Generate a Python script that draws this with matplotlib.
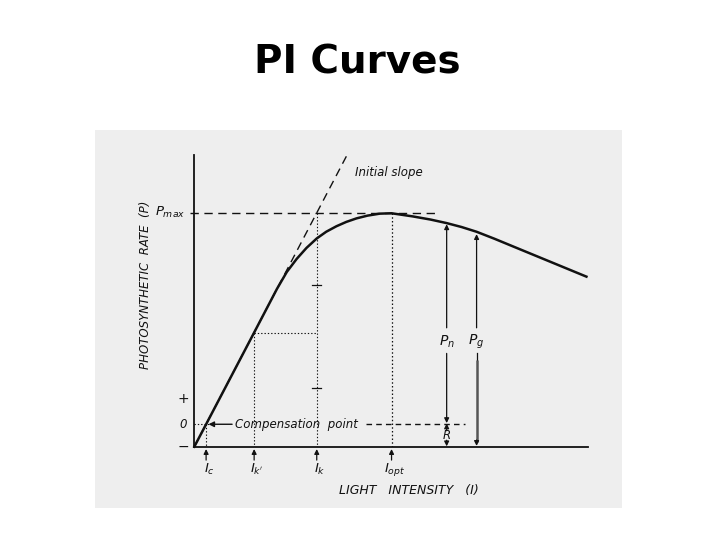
import matplotlib
matplotlib.use("Agg")
import matplotlib.pyplot as plt
from matplotlib.patches import Rectangle

# PI curve (light intensity, photosynthetic rate)
light = [0, 3.0, 15.2, 21.0, 23.5, 26.0, 28.5, 31.1, 33.5, 36.1, 38.6, 41.2, 44.0,
         47.1, 50.1, 55.5, 60.0, 64.1, 67.9, 71.7, 76.3, 80.9, 89.4, 99.6]
rate = [-5.7, 0, 23.3, 34.4, 38.7, 42.0, 44.8, 47.2, 48.9, 50.3, 51.4, 52.3, 53.0,
        53.5, 53.6, 52.8, 52.0, 51.1, 50.1, 48.9, 47.1, 45.2, 41.7, 37.5]

R = 5.7          # respiration (below the zero line)
P_MAX = 53.7
I_C = 3.0
I_K1 = 15.2      # I_k'
P_K1 = 23.3
I_K = 31.1
I_OPT = 50.1
X_PN, P_N = 64.1, 51.1
X_PG, P_G = 71.7, 48.9
SLOPE_TOP = (38.8, 68.4)
IK_TICKS = [35.4, 9.1]

tick_pos = [I_C, I_K1, I_K, I_OPT]
tick_labels = ["$I_c$", "$I_{k'}$", "$I_k$", "$I_{opt}$"]

W, H = 720, 540
fig = plt.figure(figsize=(7.2, 5.4), dpi=100)
fig.patch.set_facecolor("white")

# scanned page area
fig.add_artist(Rectangle((95 / W, 1 - 508 / H), 527 / W, 378 / H,
                         transform=fig.transFigure, facecolor="#eeeeee",
                         edgecolor="none", zorder=0))

fig.text(0.496, 0.885, "PI Curves", ha="center", va="center",
         fontsize=28, fontweight="bold", family="DejaVu Sans")

ax = fig.add_axes([194.3 / W, 1 - 446.7 / H, 393.7 / W, 291.7 / H])
ax.set_facecolor("none")
ax.set_xlim(0, 100)
ax.set_ylim(-R, 68.4)
for s in ["top", "right"]:
    ax.spines[s].set_visible(False)
for s in ["left", "bottom"]:
    ax.spines[s].set_linewidth(1.3)
    ax.spines[s].set_color("#111111")
ax.set_xticks([])
ax.set_yticks([])

ink = "#111111"
dash = (0, (6, 4))
dot = (0, (1.2, 1.8))
it = dict(style="italic", color=ink, family="DejaVu Sans")

# curve
ax.plot(light, rate, color=ink, lw=1.8, clip_on=False, zorder=5,
        solid_joinstyle="round")

# initial slope
ax.plot([0, SLOPE_TOP[0]], [-R, SLOPE_TOP[1]], color=ink, lw=1.0, ls=dash, clip_on=False)
ax.text(40.8, 64.0, "Initial slope", fontsize=8.5, va="center", ha="left", **it)

# Pmax line
ax.plot([-1, 61.4], [P_MAX, P_MAX], color=ink, lw=1.0, ls=dash, clip_on=False)
ax.text(-2.2, P_MAX, "$P_{max}$", fontsize=9.5, ha="right", va="center", **it)

# zero / compensation line
ax.plot([0, I_C + 1], [0, 0], color=ink, lw=0.8, ls=dot)
ax.plot([43.5, 68.7], [0, 0], color=ink, lw=1.0, ls=(0, (4, 3)))
ax.annotate("", xy=(I_C + 0.6, 0), xytext=(9.6, 0),
            arrowprops=dict(arrowstyle="-|>", color=ink, lw=1.0,
                            mutation_scale=8, shrinkA=0, shrinkB=0))
ax.text(10.3, 0, "Compensation  point", fontsize=8.5, ha="left", va="center", **it)

# vertical dotted guides
ax.plot([I_C, I_C], [0, -R], color=ink, lw=0.8, ls=dot)
ax.plot([I_K1, I_K1], [P_K1, -R], color=ink, lw=0.8, ls=dot)
ax.plot([I_K1, I_K], [P_K1, P_K1], color=ink, lw=0.8, ls=dot)
ax.plot([I_K, I_K], [P_MAX, -R], color=ink, lw=0.8, ls=dot)
ax.plot([I_OPT, I_OPT], [P_MAX, -R], color=ink, lw=0.9, ls=dot)
for y in IK_TICKS:
    ax.plot([I_K - 1.2, I_K + 1.2], [y, y], color=ink, lw=0.9)

# y-axis signs
ax.text(-2.9, 6.3, "+", fontsize=10, ha="center", va="center", color=ink)
ax.text(-2.9, 0, "0", fontsize=8.5, ha="center", va="center", **it)
ax.text(-2.9, -R, "\u2212", fontsize=10, ha="center", va="center", color=ink)

# x-axis markers
arr = dict(arrowstyle="-|>", color=ink, lw=0.9, mutation_scale=7, shrinkA=0, shrinkB=0)
for x, lab in zip(tick_pos, tick_labels):
    ax.annotate("", xy=(x, -R - 0.6), xytext=(x, -R - 3.4), arrowprops=arr,
                annotation_clip=False)
    ax.text(x + 0.8, -R - 5.9, lab, fontsize=9.5, ha="center", va="center", **it)

# Pn, R, Pg arrows
ax.annotate("", xy=(X_PN, P_N - 0.3), xytext=(X_PN, 24.5), arrowprops=arr)
ax.annotate("", xy=(X_PN, 0.3), xytext=(X_PN, 18.0), arrowprops=arr)
ax.text(X_PN, 21.0, "$P_n$", fontsize=10, ha="center", va="center", **it)
ax.annotate("", xy=(X_PN, 0.2), xytext=(X_PN, -R / 2 + 1.2), arrowprops=arr)
ax.annotate("", xy=(X_PN, -R + 0.1), xytext=(X_PN, -R / 2 - 1.2), arrowprops=arr)
ax.text(X_PN, -R / 2, "$R$", fontsize=8.5, ha="center", va="center", **it)

ax.annotate("", xy=(X_PG, P_G - 0.6), xytext=(X_PG, 24.5), arrowprops=arr)
ax.plot([X_PG, X_PG], [18.0, 16.2], color=ink, lw=0.9)
ax.plot([X_PG, X_PG], [16.2, -4.6], color="#555555", lw=1.8, solid_capstyle="butt")
ax.annotate("", xy=(X_PG, -R + 0.2), xytext=(X_PG, -4.0), arrowprops=arr)
ax.text(X_PG, 21.0, "$P_g$", fontsize=10, ha="center", va="center", **it)

# axis titles
ax.text(54.6, -16.9, "LIGHT   INTENSITY   (I)", fontsize=9, ha="center", va="center", **it)
ax.text(-12.5, 35.4, "PHOTOSYNTHETIC  RATE  (P)", fontsize=8.5, rotation=90,
        ha="center", va="center", **it)

fig.savefig("out.png", dpi=100)
